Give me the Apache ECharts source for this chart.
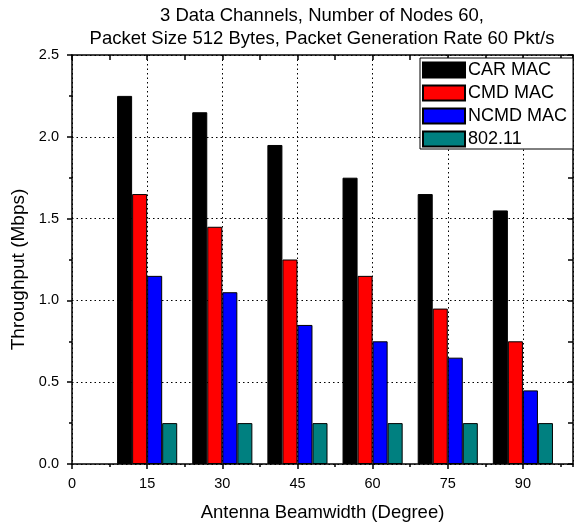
<!DOCTYPE html>
<html>
<head>
<meta charset="utf-8">
<script src="https://cdn.jsdelivr.net/npm/echarts@6/dist/echarts.min.js"></script>
<style>
  html, body { margin: 0; padding: 0; background: #fff; }
  #chart { width: 575px; height: 527px; }
</style>
</head>
<body>
<div id="chart"></div>
<script>
// beamwidth (degree) on the x axis
const beamwidths = [15, 30, 45, 60, 75, 90];
const seriesNames = ['CAR MAC', 'CMD MAC', 'NCMD MAC', '802.11'];
const carMac = [2.25, 2.15, 1.95, 1.75, 1.65, 1.55];
const cmdMac = [1.65, 1.45, 1.25, 1.15, 0.95, 0.75];
const ncmdMac = [1.15, 1.05, 0.85, 0.75, 0.65, 0.45];
const dot11 = [0.25, 0.25, 0.25, 0.25, 0.25, 0.25];
const colors = ['#000000', '#ff0000', '#0000ff', '#008080'];

const FONT = '"Liberation Sans", Arial, sans-serif';
const chart = echarts.init(document.getElementById('chart'));

const toPairs = (vals) => vals.map((v, i) => [beamwidths[i], v]);
const dotted = { color: '#000', width: 1, type: [1.5, 3] };

const option = {
  animation: false,
  backgroundColor: '#fff',
  textStyle: { fontFamily: FONT, color: '#000' },
  graphic: [{
    type: 'text',
    x: 322,
    y: 4,
    style: {
      text: '3 Data Channels, Number of Nodes 60,\nPacket Size 512 Bytes, Packet Generation Rate 60 Pkt/s',
      align: 'center',
      verticalAlign: 'top',
      font: '18.5px ' + FONT,
      lineHeight: 23,
      fill: '#000'
    }
  }],
  grid: { left: 72, right: 2, top: 55, bottom: 63 },
  legend: {
    data: seriesNames,
    orient: 'vertical',
    right: 2,
    top: 58,
    itemWidth: 42,
    itemHeight: 15,
    itemGap: 5,
    padding: [3, 6, 1, 2],
    backgroundColor: '#fff',
    borderColor: '#000',
    borderWidth: 1,
    borderRadius: 0,
    icon: 'rect',
    textStyle: { fontSize: 18, fontFamily: FONT, color: '#000', padding: [0, 0, 0, -2] }
  },
  xAxis: [
    {
      type: 'value',
      min: 0,
      max: 100,
      interval: 15,
      position: 'bottom',
      name: 'Antenna Beamwidth (Degree)',
      nameLocation: 'middle',
      nameGap: 39,
      nameTextStyle: { fontSize: 18.5, fontFamily: FONT, color: '#000' },
      axisLine: { show: true, onZero: false, lineStyle: { color: '#000', width: 1.5 } },
      axisTick: { show: true, inside: false, length: 5, lineStyle: { color: '#000', width: 1.5 } },
      axisLabel: { fontSize: 14.5, color: '#000', margin: 12, showMaxLabel: false },
      splitLine: { show: true, lineStyle: dotted }
    },
    {
      // minor ticks on the bottom
      type: 'value', min: 0, max: 100, interval: 7.5, position: 'bottom',
      axisLine: { show: false },
      axisTick: { show: true, inside: false, length: 3, lineStyle: { color: '#000', width: 1.5 } },
      axisLabel: { show: false },
      splitLine: { show: false }
    },
    {
      // mirrored top axis
      type: 'value', min: 0, max: 100, interval: 7.5, position: 'top',
      axisLine: { show: true, onZero: false, lineStyle: { color: '#000', width: 1.5 } },
      axisTick: { show: true, inside: true, length: 5, lineStyle: { color: '#000', width: 1.5 } },
      axisLabel: { show: false },
      splitLine: { show: false }
    }
  ],
  yAxis: [
    {
      type: 'value',
      min: 0,
      max: 2.5,
      interval: 0.5,
      position: 'left',
      name: 'Throughput (Mbps)',
      nameLocation: 'middle',
      nameGap: 43,
      nameTextStyle: { fontSize: 19, fontFamily: FONT, color: '#000', padding: [0, 20, 0, 0] },
      axisLine: { show: true, onZero: false, lineStyle: { color: '#000', width: 1.5 } },
      axisTick: { show: true, inside: false, length: 5, lineStyle: { color: '#000', width: 1.5 } },
      minorTick: { show: true, splitNumber: 2, length: 3, lineStyle: { color: '#000', width: 1.5 } },
      axisLabel: { fontSize: 14.5, color: '#000', margin: 13, formatter: (v) => v.toFixed(1) },
      splitLine: { show: true, lineStyle: dotted }
    },
    {
      type: 'value', min: 0, max: 2.5, interval: 0.25, position: 'right',
      axisLine: { show: true, onZero: false, lineStyle: { color: '#000', width: 1.5 } },
      axisTick: { show: true, inside: true, length: 5, lineStyle: { color: '#000', width: 1.5 } },
      axisLabel: { show: false },
      splitLine: { show: false }
    }
  ],
  series: [carMac, cmdMac, ncmdMac, dot11].map((vals, i) => ({
    name: seriesNames[i],
    type: 'bar',
    xAxisIndex: 0,
    yAxisIndex: 0,
    data: toPairs(vals),
    barWidth: '20%',
    barGap: '0%',
    itemStyle: { color: colors[i], borderColor: '#000', borderWidth: 1 }
  }))
};

chart.setOption(option);
</script>
</body>
</html>
